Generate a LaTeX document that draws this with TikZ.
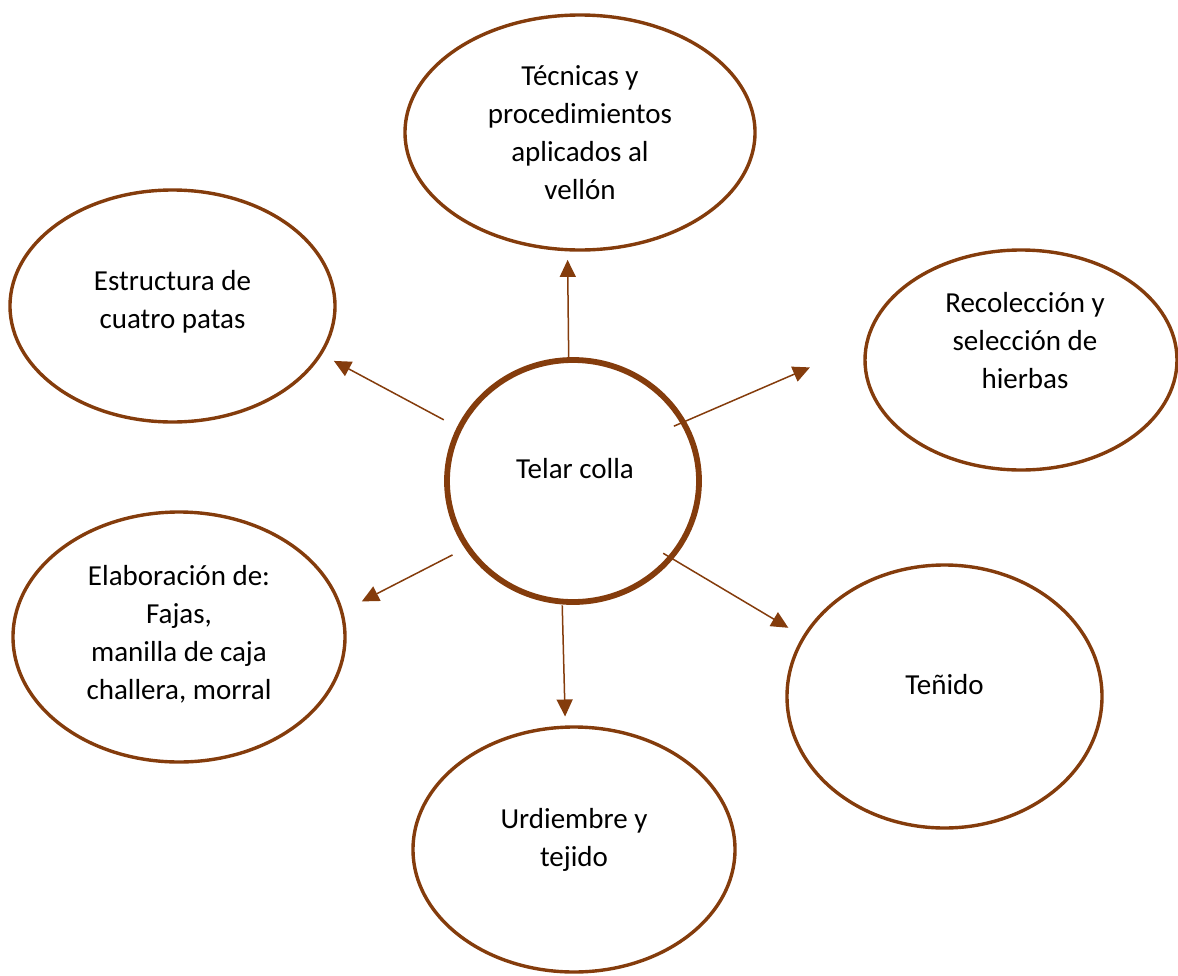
\documentclass[tikz,border=0pt]{standalone}
\usepackage{fontspec}
\setmainfont{Carlito}
\usetikzlibrary{arrows.meta,shapes.geometric}
\definecolor{rust}{RGB}{132,60,12}
\tikzstyle{bubble}=[ellipse,draw=rust,line width=1.7pt,inner sep=0pt]
\tikzstyle{hubnode}=[bubble,line width=2.9pt]
\tikzstyle{bubbletext}=[align=center,font=\fontsize{14.5}{19}\selectfont,inner sep=0pt]
\tikzstyle{link}=[draw=rust,line width=0.75pt,-{Triangle[length=8.5pt,width=8pt]}]

\begin{document}
\begin{tikzpicture}[x=0.5pt,y=-0.5pt]
    \useasboundingbox (0,0) rectangle (1178,975);
    % The central loom and its six topics
    \node[hubnode,minimum width=126pt,minimum height=121pt,
        label={[bubbletext,xshift=1pt,yshift=6pt]center:{Telar colla}}] (telar) at (573,481) {};
    \node[bubble,minimum width=175pt,minimum height=117.5pt,
        label={[bubbletext]center:{Técnicas y\\procedimientos\\aplicados al\\vellón}}] (tec) at (580,132.5) {};
    \node[bubble,minimum width=162.5pt,minimum height=116pt,
        label={[bubbletext,yshift=2.25pt]center:{Estructura de\\cuatro patas}}] (est) at (172.5,306) {};
    \node[bubble,minimum width=156pt,minimum height=110pt,
        label={[bubbletext,xshift=2pt,yshift=9.75pt]center:{Recolección y\\selección de\\hierbas}}] (rec) at (1021,360) {};
    \node[bubble,minimum width=166pt,minimum height=125pt,
        label={[bubbletext,yshift=1.5pt]center:{Elaboración de:\\Fajas,\\manilla de caja\\challera, morral}}] (elab) at (179,637) {};
    \node[bubble,minimum width=157.5pt,minimum height=131.5pt,
        label={[bubbletext,yshift=6pt]center:{Teñido}}] (ten) at (944.5,696.5) {};
    \node[bubble,minimum width=161pt,minimum height=122.5pt,
        label={[bubbletext,yshift=5pt]center:{Urdiembre y\\tejido}}] (urd) at (574,849.5) {};
    % Arrows out of the centre
    \foreach \from/\to/\s/\e in {92/tec.-96/0/4.25, 155/est.-18/7.5/6.7, 28/rec.174/-6.5/30,
                                 212/elab.9/7/10.5, -38/ten.157/-5.75/8.25, -95/urd.94/0.5/4.5}
        \path[link,shorten <=\s pt,shorten >=\e pt] (telar.\from) -- (\to);
\end{tikzpicture}
\end{document}
